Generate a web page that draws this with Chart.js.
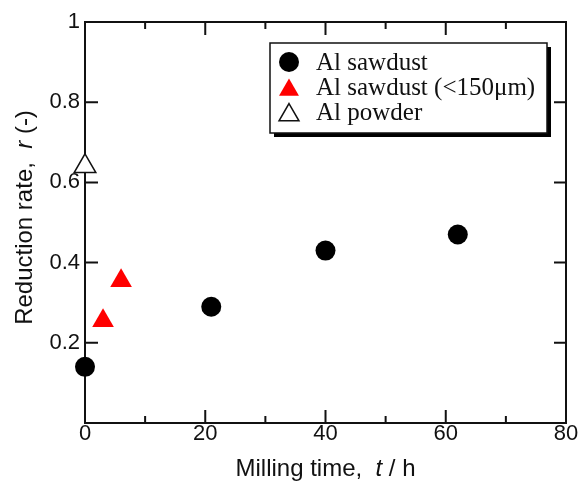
<!DOCTYPE html>
<html><head><meta charset="utf-8">
<script src="https://cdn.jsdelivr.net/npm/chart.js@4/dist/chart.umd.min.js"></script>
<style>html,body{margin:0;padding:0;background:#fff}canvas{display:block}</style>
</head><body>
<canvas id="c" width="581" height="483"></canvas>
<script>
// Reduction rate vs. milling time
const sawdustTime = [0, 21, 40, 62];
const sawdustRate = [0.14, 0.29, 0.43, 0.47];
const fineTime = [3, 6];
const fineRate = [0.255, 0.355];
const powderTime = [0];
const powderRate = [0.64];
const seriesNames = ['Al sawdust', 'Al sawdust (<150\u03bcm)', 'Al powder'];
const xMajorTicks = [0, 20, 40, 60, 80];
const xMinorTicks = [10, 30, 50, 70];
const yMajorTicks = [0, 0.2, 0.4, 0.6, 0.8, 1];

const SANS = '"Liberation Sans", Arial, sans-serif';
const SERIF = '"Liberation Serif", "Times New Roman", serif';

const pts = (xs, ys) => xs.map((v, i) => ({x: v, y: ys[i]}));

// box frame with inward ticks on all four sides
const framePlugin = {
  id: 'frame',
  beforeDatasetsDraw(chart) {
    const {ctx, chartArea: a, scales: {x, y}} = chart;
    ctx.save();
    ctx.strokeStyle = '#111';
    ctx.lineWidth = 2;
    ctx.strokeRect(a.left, a.top, a.right - a.left, a.bottom - a.top);
    ctx.beginPath();
    const xt = (v, len) => {
      const p = x.getPixelForValue(v);
      ctx.moveTo(p, a.bottom); ctx.lineTo(p, a.bottom - len);
      ctx.moveTo(p, a.top); ctx.lineTo(p, a.top + len);
    };
    xMajorTicks.forEach(v => xt(v, 13));
    xMinorTicks.forEach(v => xt(v, 7));
    yMajorTicks.forEach(v => {
      const p = y.getPixelForValue(v);
      ctx.moveTo(a.left, p); ctx.lineTo(a.left + 13, p);
      ctx.moveTo(a.right, p); ctx.lineTo(a.right - 12, p);
    });
    ctx.stroke();
    ctx.restore();
  }
};

// axis titles with an italic symbol
function drawRich(ctx, parts, cx, cy, size) {
  const fonts = parts.map(p => (p.i ? 'italic ' : '') + size + 'px ' + SANS);
  let total = 0;
  const widths = parts.map((p, k) => { ctx.font = fonts[k]; const w = ctx.measureText(p.t).width; total += w; return w; });
  let xx = cx - total / 2;
  ctx.textBaseline = 'alphabetic';
  ctx.textAlign = 'left';
  ctx.fillStyle = '#111';
  parts.forEach((p, k) => { ctx.font = fonts[k]; ctx.fillText(p.t, xx, cy); xx += widths[k]; });
}
const titlePlugin = {
  id: 'titles',
  afterDraw(chart) {
    const {ctx, chartArea: a} = chart;
    ctx.save();
    drawRich(ctx, [{t: 'Milling time,  '}, {t: 't', i: true}, {t: ' / h'}], (a.left + a.right) / 2, 476, 24);
    ctx.translate(32, (a.top + a.bottom) / 2 - 5);
    ctx.rotate(-Math.PI / 2);
    drawRich(ctx, [{t: 'Reduction rate,  '}, {t: 'r', i: true}, {t: ' (-)'}], 0, 0, 24);
    ctx.restore();
  }
};

// boxed legend with drop shadow
const legendPlugin = {
  id: 'boxLegend',
  afterDatasetsDraw(chart) {
    const {ctx} = chart;
    const L = 270, T = 43, W = 277, H = 90;
    ctx.save();
    ctx.fillStyle = '#000';
    ctx.fillRect(L + 4, T + 4, W, H);
    ctx.fillStyle = '#fff';
    ctx.fillRect(L, T, W, H);
    ctx.strokeStyle = '#111';
    ctx.lineWidth = 1.5;
    ctx.strokeRect(L, T, W, H);
    chart.data.datasets.forEach((ds, k) => {
      const base = 70 + k * 25;
      const tri = ds.pointStyle === 'triangle';
      ctx.fillStyle = ds.pointBackgroundColor;
      ctx.strokeStyle = ds.pointBorderColor;
      ctx.lineWidth = ds.pointBorderWidth;
      Chart.helpers.drawPoint(ctx, {
        pointStyle: ds.pointStyle, rotation: 0,
        radius: tri ? 11.5 : 10, borderWidth: ds.pointBorderWidth
      }, 289, tri ? base - 5 : base - 8);
      ctx.fillStyle = '#111';
      ctx.font = '25px ' + SERIF;
      ctx.textBaseline = 'alphabetic';
      ctx.textAlign = 'left';
      ctx.fillText(ds.label, 316, base);
    });
    ctx.restore();
  }
};

new Chart(document.getElementById('c'), {
  type: 'scatter',
  data: {
    datasets: [
      {label: seriesNames[0], data: pts(sawdustTime, sawdustRate), pointStyle: 'circle', pointRadius: 10,
       pointBackgroundColor: '#000', pointBorderColor: '#000', pointBorderWidth: 0, clip: false},
      {label: seriesNames[1], data: pts(fineTime, fineRate), pointStyle: 'triangle', pointRadius: 12.5,
       pointBackgroundColor: '#ff0000', pointBorderColor: '#ff0000', pointBorderWidth: 0, clip: false},
      {label: seriesNames[2], data: pts(powderTime, powderRate), pointStyle: 'triangle', pointRadius: 12.5,
       pointBackgroundColor: '#fff', pointBorderColor: '#111', pointBorderWidth: 1.5, clip: false}
    ]
  },
  options: {
    responsive: false,
    devicePixelRatio: 1,
    animation: false,
    events: [],
    layout: {padding: {top: 22, right: 15, left: 0, bottom: 0}},
    plugins: {legend: {display: false}, tooltip: {enabled: false}},
    scales: {
      x: {
        type: 'linear', min: 0, max: 80,
        afterBuildTicks: s => { s.ticks = xMajorTicks.map(v => ({value: v})); },
        afterFit: s => { s.height = 60; },
        grid: {display: false, drawTicks: false},
        border: {display: false},
        ticks: {padding: -2, color: '#111', font: {family: SANS, size: 22}, maxRotation: 0}
      },
      y: {
        type: 'linear', min: 0, max: 1,
        afterBuildTicks: s => { s.ticks = yMajorTicks.map(v => ({value: v})); },
        afterFit: s => { s.width = 85; },
        grid: {display: false, drawTicks: false},
        border: {display: false},
        ticks: {padding: 5, color: '#111', font: {family: SANS, size: 22},
                callback: v => (v === 0 ? '' : String(v))}
      }
    }
  },
  plugins: [framePlugin, titlePlugin, legendPlugin]
});
</script>
</body></html>
